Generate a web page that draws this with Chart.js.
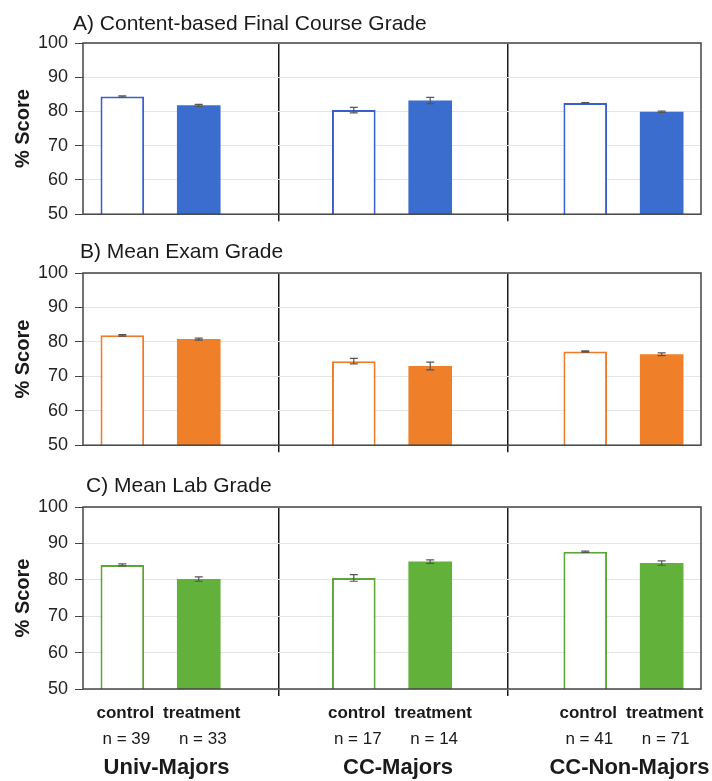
<!DOCTYPE html>
<html><head><meta charset="utf-8">
<script src="https://cdn.jsdelivr.net/npm/chart.js@4.4.0/dist/chart.umd.min.js"></script>
<style>
html,body{margin:0;padding:0;background:#fff;}
canvas{display:block;}
#wrap{width:712px;height:781px;position:relative;overflow:hidden;background:#fff}
</style></head><body>
<div id="wrap">
<canvas id="cA" width="712" height="232" style="width:712px;height:232px"></canvas>
<canvas id="cB" width="712" height="231" style="width:712px;height:231px"></canvas>
<canvas id="cC" width="712" height="318" style="width:712px;height:318px"></canvas>
</div>
<script>
// ---- data ----
const groups = ['Univ-Majors', 'CC-Majors', 'CC-Non-Majors'];
const armLabels = ['control', 'treatment'];
const nControl = [39, 17, 41];
const nTreatment = [33, 14, 71];
const panelTitles = ['A) Content-based Final Course Grade', 'B) Mean Exam Grade', 'C) Mean Lab Grade'];
const yAxisTitle = '% Score';
const yTicks = [50, 60, 70, 80, 90, 100];

const finalControl = [84.4, 80.4, 82.5];
const finalTreatment = [81.8, 83.2, 79.9];
const finalControlErr = [0.2, 0.8, 0.1];
const finalTreatmentErr = [0.3, 0.9, 0.2];

const examControl = [81.9, 74.4, 77.2];
const examTreatment = [80.8, 73.0, 76.4];
const examControlErr = [0.2, 0.8, 0.2];
const examTreatmentErr = [0.3, 1.1, 0.4];

const labControl = [84.1, 80.5, 87.7];
const labTreatment = [80.2, 85.0, 84.6];
const labControlErr = [0.3, 0.9, 0.2];
const labTreatmentErr = [0.6, 0.5, 0.6];

// ---- styling ----
const FONT = "'Liberation Sans', Arial, Helvetica, sans-serif";
const dividerAt = [0.51, 1.5];

const panelDecor = {
  id: 'panelDecor',
  afterDatasetsDraw(chart, args, opts) {
    const ctx = chart.ctx;
    const ys = chart.scales.y;
    ctx.save();
    ctx.strokeStyle = '#555';
    ctx.lineWidth = 1.2;
    chart.data.datasets.forEach((ds, d) => {
      const meta = chart.getDatasetMeta(d);
      meta.data.forEach((el, i) => {
        const v = ds.data[i].y, e = ds.errors[i];
        const t = ys.getPixelForValue(v + e), b = ys.getPixelForValue(v - e);
        ctx.beginPath();
        ctx.moveTo(el.x, t); ctx.lineTo(el.x, b);
        ctx.moveTo(el.x - 4, t); ctx.lineTo(el.x + 4, t);
        ctx.moveTo(el.x - 4, b); ctx.lineTo(el.x + 4, b);
        ctx.stroke();
      });
    });
    ctx.restore();
  },
  afterDraw(chart, args, opts) {
    const ctx = chart.ctx;
    const a = chart.chartArea;
    ctx.save();
    ctx.strokeStyle = '#444';
    ctx.lineWidth = 1.5;
    ctx.strokeRect(a.left, a.top, a.right - a.left, a.bottom - a.top);
    ctx.fillStyle = '#1a1a1a';
    ctx.textBaseline = 'alphabetic';
    ctx.textAlign = 'left';
    ctx.font = '21px ' + FONT;
    ctx.fillText(opts.title, opts.titleX, opts.titleY);
    // y axis title
    ctx.save();
    ctx.translate(23, (a.top + a.bottom) / 2);
    ctx.rotate(-Math.PI / 2);
    ctx.textAlign = 'center';
    ctx.textBaseline = 'middle';
    ctx.font = 'bold 20px ' + FONT;
    ctx.fillText(yAxisTitle, 0, 0);
    ctx.restore();
    if (opts.groupLabels) {
      const m0 = chart.getDatasetMeta(0), m1 = chart.getDatasetMeta(1);
      const xs = chart.scales.x;
      ctx.textAlign = 'center';
      groups.forEach((g, i) => {
        const cx = m0.data[i].x + 3, tx = m1.data[i].x + 3;
        ctx.font = 'bold 17px ' + FONT;
        ctx.fillText(armLabels[0], cx, a.bottom + 29);
        ctx.fillText(armLabels[1], tx, a.bottom + 29);
        ctx.font = '17px ' + FONT;
        ctx.fillText('n = ' + nControl[i], cx + 1, a.bottom + 55);
        ctx.fillText('n = ' + nTreatment[i], tx + 1, a.bottom + 55);
        ctx.font = 'bold 22px ' + FONT;
        ctx.fillText(g, xs.getPixelForValue(i) + 6, a.bottom + 85);
      });
    }
    ctx.restore();
  }
};

function makePanel(id, ctrl, trt, ctrlErr, trtErr, colors, decor, pad) {
  const toPts = arr => arr.map((v, i) => ({ x: i, y: v }));
  return new Chart(document.getElementById(id), {
    type: 'bar',
    data: {
      datasets: [
        { label: armLabels[0], data: toPts(ctrl), errors: ctrlErr,
          backgroundColor: '#ffffff', borderColor: colors.line, borderWidth: 2, borderSkipped: false },
        { label: armLabels[1], data: toPts(trt), errors: trtErr,
          backgroundColor: colors.fill, borderColor: colors.fill, borderWidth: 0 }
      ]
    },
    options: {
      responsive: false,
      animation: false,
      devicePixelRatio: 1,
      categoryPercentage: 0.667,
      barPercentage: 0.571,
      layout: { padding: pad },
      plugins: { legend: { display: false }, tooltip: { enabled: false }, panelDecor: decor },
      scales: {
        x: {
          type: 'linear', min: -0.335, max: 2.335, offset: false,
          afterBuildTicks: s => { s.ticks = dividerAt.map(v => ({ value: v })); },
          ticks: { display: false },
          grid: { offset: false, color: '#1a1a1a', lineWidth: 1.5, tickLength: 7, drawTicks: true, tickColor: '#1a1a1a' },
          border: { display: false },
          afterFit: s => { s.height = 7; }
        },
        y: {
          min: 50, max: 100,
          afterBuildTicks: s => { s.ticks = yTicks.map(v => ({ value: v })); },
          ticks: { font: { size: 18, family: FONT }, color: '#222', padding: 7 },
          grid: { color: '#e4e4e4', lineWidth: 1, tickLength: 8, tickColor: '#444' },
          border: { display: false },
          afterFit: s => { s.width = 83; }
        }
      }
    },
    plugins: [panelDecor]
  });
}

makePanel('cA', finalControl, finalTreatment, finalControlErr, finalTreatmentErr,
  { line: '#3a5fcd', fill: '#3a6dcd' },
  { title: panelTitles[0], titleX: 73, titleY: 30, groupLabels: false },
  { top: 43, right: 11, bottom: 3, left: 0 });
makePanel('cB', examControl, examTreatment, examControlErr, examTreatmentErr,
  { line: '#ef7b2a', fill: '#ef7f28' },
  { title: panelTitles[1], titleX: 80, titleY: 26, groupLabels: false },
  { top: 41, right: 11, bottom: 3, left: 0 });
makePanel('cC', labControl, labTreatment, labControlErr, labTreatmentErr,
  { line: '#5ea537', fill: '#62b13a' },
  { title: panelTitles[2], titleX: 86, titleY: 29, groupLabels: true },
  { top: 44, right: 11, bottom: 85, left: 0 });
</script>
</body></html>
